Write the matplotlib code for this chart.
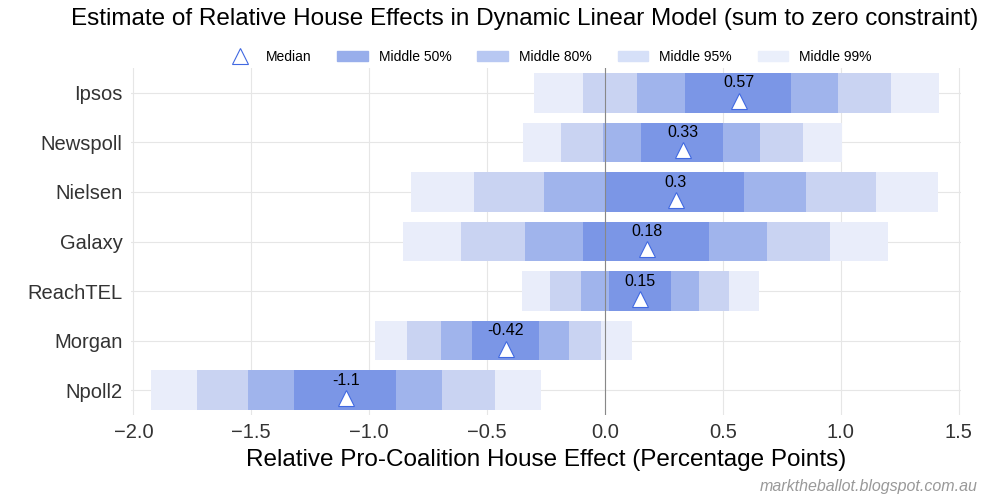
import numpy as np
import matplotlib
matplotlib.use("Agg")
import matplotlib.pyplot as plt
from matplotlib.patches import Patch
from matplotlib.lines import Line2D

plt.rcParams['font.family'] = ['Liberation Sans', 'DejaVu Sans']

houses = ['Ipsos', 'Newspoll', 'Nielsen', 'Galaxy', 'ReachTEL', 'Morgan', 'Npoll2']
median = [0.57, 0.33, 0.30, 0.18, 0.15, -0.42, -1.10]
median_label = ['0.57', '0.33', '0.3', '0.18', '0.15', '-0.42', '-1.1']

# lower / upper bounds of each credible interval
lo99 = [-0.302, -0.348, -0.822, -0.856, -0.353, -0.976, -1.925]
lo95 = [-0.095, -0.187, -0.557, -0.611, -0.234, -0.839, -1.730]
lo80 = [0.134, -0.010, -0.260, -0.341, -0.100, -0.696, -1.513]
lo50 = [0.338, 0.151, 0.000, -0.095, 0.019, -0.564, -1.319]
hi50 = [0.788, 0.501, 0.589, 0.443, 0.280, -0.280, -0.888]
hi80 = [0.988, 0.659, 0.852, 0.686, 0.397, -0.153, -0.689]
hi95 = [1.212, 0.839, 1.148, 0.956, 0.528, -0.015, -0.467]
hi99 = [1.418, 1.007, 1.414, 1.200, 0.652, 0.114, -0.270]

bands = [('Middle 99%', lo99, hi99, '#e9edfa', '#eaeffb'),
         ('Middle 95%', lo95, hi95, '#c9d3f2', '#d6e0f8'),
         ('Middle 80%', lo80, hi80, '#a0b4ec', '#b8c8f2'),
         ('Middle 50%', lo50, hi50, '#7b96e6', '#98aeeb')]

fig = plt.figure(figsize=(10, 5), dpi=100)
ax = fig.add_axes([0.131, 0.17, 0.83, 0.694])

y = np.arange(len(houses))
for name, lo, hi, col, lcol in bands:
    lo = np.array(lo)
    hi = np.array(hi)
    ax.barh(y, hi - lo, left=lo, height=0.8, color=col, zorder=2)

ax.axvline(0, color='#888888', lw=0.8, zorder=3)
ax.plot(median, y + 0.16, linestyle='none', marker='^', markersize=11,
        markerfacecolor='white', markeredgecolor='royalblue', markeredgewidth=0.8, zorder=4)
for yy, m, lab in zip(y, median, median_label):
    ax.text(m, yy - 0.2, lab, ha='center', va='center', fontsize=11.5, zorder=5)

ax.set_yticks(y)
ax.set_yticklabels(houses, fontsize=14.5, color='#333333')
ax.set_ylim(len(houses) - 0.5, -0.5)
ax.set_xlim(-2.01, 1.51)
ax.set_xticks([-2.0, -1.5, -1.0, -0.5, 0.0, 0.5, 1.0, 1.5])
ax.set_xticklabels(['\u22122.0', '\u22121.5', '\u22121.0', '\u22120.5', '0.0', '0.5', '1.0', '1.5'],
                   fontsize=14.5, color='#333333')
ax.tick_params(length=0, pad=6)
ax.grid(True, color='#e6e6e6', lw=0.8, zorder=0)
ax.set_axisbelow(True)
for s in ax.spines.values():
    s.set_visible(False)

ax.set_xlabel('Relative Pro-Coalition House Effect (Percentage Points)', fontsize=17.5, labelpad=5)
fig.suptitle('Estimate of Relative House Effects in Dynamic Linear Model (sum to zero constraint)',
             fontsize=17.5, x=0.525, y=0.985)

handles = [Line2D([], [], linestyle='none', marker='^', markersize=11, markerfacecolor='white',
                  markeredgecolor='royalblue', markeredgewidth=0.8)]
labels = ['Median']
for name, lo, hi, col, lcol in reversed(bands):
    handles.append(Patch(color=lcol))
    labels.append(name)
fig.legend(handles, labels, ncol=5, frameon=False, fontsize=10, loc='center',
           bbox_to_anchor=(0.548, 0.886), columnspacing=1.85, handlelength=2.2)

fig.text(0.978, 0.012, 'marktheballot.blogspot.com.au', ha='right', va='bottom',
         fontsize=11.5, style='italic', color='#999999')

fig.savefig('out.png', dpi=100)
